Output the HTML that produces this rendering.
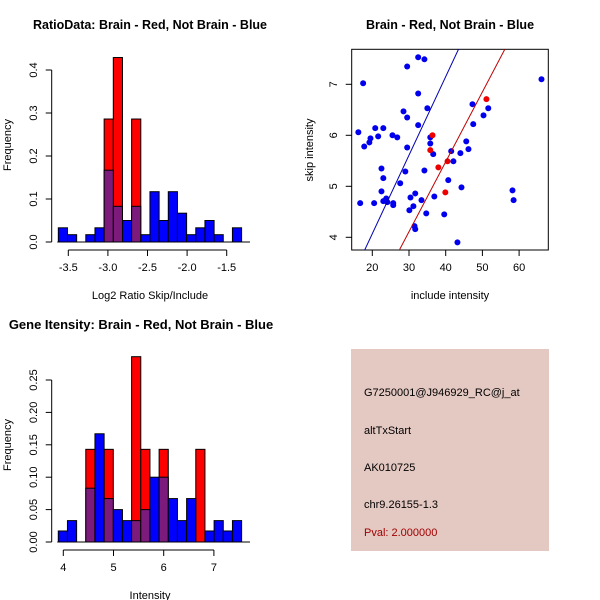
<!DOCTYPE html>
<html><head><meta charset="utf-8"><style>
html,body{margin:0;padding:0;background:#fff}
svg{display:block;font-family:"Liberation Sans",sans-serif}
</style></head><body>
<svg id="c" width="600" height="600" viewBox="0 0 600 600">
<rect width="600" height="600" fill="#fff"/>
<text x="150" y="29" text-anchor="middle" font-size="12.5" font-weight="bold">RatioData: Brain - Red, Not Brain - Blue</text>
<text x="450" y="29" text-anchor="middle" font-size="12.5" font-weight="bold">Brain - Red, Not Brain - Blue</text>
<text x="141" y="329" text-anchor="middle" font-size="13" font-weight="bold">Gene Itensity: Brain - Red, Not Brain - Blue</text>
<text x="150" y="299" text-anchor="middle" font-size="11">Log2 Ratio Skip/Include</text>
<text x="150" y="599" text-anchor="middle" font-size="11">Intensity</text>
<text x="450" y="299" text-anchor="middle" font-size="11">include intensity</text>
<text transform="translate(11,145) rotate(-90)" text-anchor="middle" font-size="11">Frequency</text>
<text transform="translate(11,445) rotate(-90)" text-anchor="middle" font-size="11">Frequency</text>
<text transform="translate(313,150) rotate(-90)" text-anchor="middle" font-size="11">skip intensity</text>
<rect x="351" y="349" width="198" height="202" fill="#e4c8c2"/>
<text x="364" y="396" font-size="11">G7250001@J946929_RC@j_at</text>
<text x="364" y="434" font-size="11">altTxStart</text>
<text x="364" y="471" font-size="11">AK010725</text>
<text x="364" y="508" font-size="11">chr9.26155-1.3</text>
<text x="364" y="536" font-size="11" fill="#a00000">Pval: 2.000000</text>
</svg>
<script>
// ---- Ratio histogram data ----
const ratioBinStart = -3.626;
const ratioBinWidth = 0.1157;
const ratioBlue = [0.033,0.017,0,0.017,0.033,0.167,0.083,0.05,0.083,0.017,0.117,0.05,0.117,0.067,0.017,0.033,0.05,0.017,0,0.033];
const ratioRed  = [0,0,0,0,0,0.286,0.429,0,0.286,0,0,0,0,0,0,0,0,0,0,0];
const ratioXTicks = [-3.5,-3.0,-2.5,-2.0,-1.5];
const ratioXLabels = ["-3.5","-3.0","-2.5","-2.0","-1.5"];
const ratioYTicks = [0,0.1,0.2,0.3,0.4];
const ratioYLabels = ["0.0","0.1","0.2","0.3","0.4"];
// ---- Intensity histogram data ----
const intBinStart = 3.9;
const intBinWidth = 0.1826;
const intBlue = [0.017,0.033,0,0.083,0.167,0.067,0.05,0.033,0.033,0.05,0.1,0.1,0.067,0.033,0.067,0,0.017,0.033,0.017,0.033];
const intRed  = [0,0,0,0.143,0,0.143,0,0,0.286,0.143,0,0.143,0,0,0,0.143,0,0,0,0];
const intXTicks = [4,5,6,7];
const intXLabels = ["4","5","6","7"];
const intYTicks = [0,0.05,0.1,0.15,0.2,0.25];
const intYLabels = ["0.00","0.05","0.10","0.15","0.20","0.25"];
// ---- Scatter data ----
const blueX = [16.2,17.5,17.8,16.7,19.2,19.5,20.8,21.6,23.0,22.5,23.0,22.5,20.5,23.0,23.8,24.1,25.5,25.7,25.7,26.8,27.6,28.5,29.0,29.5,29.5,29.5,30.4,30.1,31.2,31.7,31.5,31.7,32.5,32.5,32.5,34.2,35.0,34.2,33.4,34.7,35.8,35.8,36.6,36.9,39.6,40.7,41.5,42.1,44.0,44.3,43.2,45.6,46.2,47.3,47.5,50.3,51.6,58.2,58.5,66.1];
const blueY = [6.06,7.02,5.78,4.67,5.86,5.94,6.14,5.98,6.14,5.35,5.16,4.90,4.67,4.71,4.76,4.69,6.00,4.67,4.63,5.96,5.06,6.47,5.29,7.35,6.35,5.76,4.78,4.53,4.61,4.86,4.22,4.16,7.53,6.82,6.20,7.49,6.53,5.31,4.73,4.47,5.96,5.84,5.63,4.80,4.45,5.12,5.69,5.49,5.65,4.98,3.90,5.88,5.73,6.61,6.22,6.39,6.53,4.92,4.73,7.10];
const redX = [36.4,35.8,38.0,40.5,39.9,51.1];
const redY = [6.00,5.71,5.37,5.49,4.88,6.71];
const lineSlope = [0.154,0.137];
const lineIntercept = [0.99,0.00];
const lineColors = ["#0000b0","#c00000"];
const scXTicks = [20,30,40,50,60];
const scYTicks = [4,5,6,7];

const NS="http://www.w3.org/2000/svg";
const svg=document.getElementById('c');
function mk(tag,attrs,parent){const e=document.createElementNS(NS,tag);for(const k in attrs)e.setAttribute(k,attrs[k]);(parent||svg).appendChild(e);return e;}

function hist(cfg){
  const g=mk('g',{});
  
  
  const sx=v=>cfg.x0+(v-cfg.xv0)*cfg.xs, sy=v=>cfg.y0-v*cfg.ys;
  cfg.red.forEach((v,i)=>{ if(v<=0)return;
    const r=mk('rect',{x:sx(cfg.start+i*cfg.w),y:sy(v),width:cfg.w*cfg.xs,height:v*cfg.ys,fill:'#ff0000',stroke:'#000','stroke-width':1},g);
    
    
  });
  cfg.blue.forEach((v,i)=>{ if(v<=0)return;
    const r=mk('rect',{x:sx(cfg.start+i*cfg.w),y:sy(v),width:cfg.w*cfg.xs,height:v*cfg.ys,fill:cfg.red[i]>0?'#7d1b7d':'#0000ff',stroke:'#000','stroke-width':1},g);
    
    
  });
  const xa=mk('g',{},g);
  
  
  const ay=cfg.y0+8;
  mk('line',{x1:sx(cfg.xt[0]),x2:sx(cfg.xt[cfg.xt.length-1]),y1:ay,y2:ay,stroke:'#000'},xa);
  cfg.xt.forEach((t,i)=>{mk('line',{x1:sx(t),x2:sx(t),y1:ay,y2:ay+6,stroke:'#000'},xa);
    const tx=mk('text',{x:sx(t),y:ay+21,'text-anchor':'middle','font-size':11},xa);tx.textContent=cfg.xl[i];
    
    });
  const ya=mk('g',{},g);
  
  
  const ax=51.7;
  mk('line',{x1:ax,x2:ax,y1:sy(cfg.yt[0]),y2:sy(cfg.yt[cfg.yt.length-1]),stroke:'#000'},ya);
  cfg.yt.forEach((t,i)=>{mk('line',{x1:ax-6,x2:ax,y1:sy(t),y2:sy(t),stroke:'#000'},ya);
    const tx=mk('text',{'text-anchor':'middle','font-size':11,transform:`translate(${ax-14.5},${sy(t)}) rotate(-90)`},ya);tx.textContent=cfg.yl[i];
    
    });
  mk('line',{x1:sx(cfg.start)-1,x2:250,y1:cfg.y0,y2:cfg.y0,stroke:'#000'},g);
}
hist({name:'ratio-histogram',x0:68.3,xv0:-3.5,xs:79.2,y0:242,ys:430,start:ratioBinStart,w:ratioBinWidth,blue:ratioBlue,red:ratioRed,xt:ratioXTicks,xl:ratioXLabels,yt:ratioYTicks,yl:ratioYLabels});
hist({name:'intensity-histogram',x0:63.3,xv0:4,xs:50.2,y0:542,ys:648,start:intBinStart,w:intBinWidth,blue:intBlue,red:intRed,xt:intXTicks,xl:intXLabels,yt:intYTicks,yl:intYLabels});

(function(){
  const L=351.7,R=548.3,T=49.3,B=250;
  const sx=v=>372.3+(v-20)*3.67, sy=v=>237.3-(v-4)*51;
  const g=mk('g',{});
  
  
  mk('defs',{},g).innerHTML='<clipPath id="cp"><rect x="351.7" y="49.3" width="196.6" height="200.7"/></clipPath>';
  const f=mk('rect',{x:L,y:T,width:R-L,height:B-T,fill:'none',stroke:'#000'},g);
  
  
  blueX.forEach((x,i)=>{const c=mk('circle',{cx:sx(x),cy:sy(blueY[i]),r:3,fill:'#0000ee'},g);
    
    });
  redX.forEach((x,i)=>{const c=mk('circle',{cx:sx(x),cy:sy(redY[i]),r:3,fill:'#ee0000'},g);
    
    });
  lineSlope.forEach((m,i)=>{const xa=10,xb=70;
    const l=mk('line',{x1:sx(xa),y1:sy(m*xa+lineIntercept[i]),x2:sx(xb),y2:sy(m*xb+lineIntercept[i]),stroke:lineColors[i],'clip-path':'url(#cp)'},g);
    
    });
  const xa=mk('g',{},g);
  
  
  scXTicks.forEach(t=>{mk('line',{x1:sx(t),x2:sx(t),y1:B,y2:B+6,stroke:'#000'},xa);
    const tx=mk('text',{x:sx(t),y:B+21,'text-anchor':'middle','font-size':11},xa);tx.textContent=String(t);
    
    });
  const ya=mk('g',{},g);
  
  
  scYTicks.forEach(t=>{mk('line',{x1:L-6,x2:L,y1:sy(t),y2:sy(t),stroke:'#000'},ya);
    const tx=mk('text',{'text-anchor':'middle','font-size':11,transform:`translate(${L-14.5},${sy(t)}) rotate(-90)`},ya);tx.textContent=String(t);
    
    });
})();
</script>
</body></html>
